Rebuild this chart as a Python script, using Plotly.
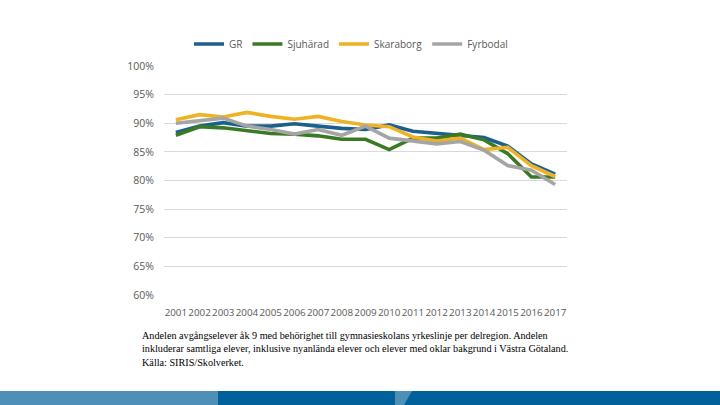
import plotly.graph_objects as go

# ── Data ─────────────────────────────────────────────────────────────────────
YEARS = [str(y) for y in range(2001, 2018)]

GR        = [88.4, 89.5, 90.1, 89.5, 89.5, 89.9, 89.5, 89.1, 88.9, 89.7, 88.6, 88.2, 87.8, 87.5, 86.0, 82.9, 81.1]
SJUHARAD  = [87.9, 89.4, 89.2, 88.7, 88.2, 88.1, 87.8, 87.2, 87.2, 85.4, 87.4, 87.4, 88.1, 87.1, 84.7, 80.6, 80.6]
SKARABORG = [90.6, 91.5, 91.1, 91.9, 91.2, 90.7, 91.2, 90.3, 89.7, 89.4, 87.6, 86.9, 87.4, 85.4, 85.8, 82.6, 80.7]
FYRBODAL  = [90.0, 90.5, 90.9, 89.5, 88.9, 88.1, 88.9, 87.9, 89.5, 87.4, 86.9, 86.4, 86.8, 85.3, 82.6, 81.8, 79.3]

SERIES = [
    ("GR",        GR,        "#1b5f8c"),
    ("Sjuhärad",  SJUHARAD,  "#3b7a24"),
    ("Skaraborg", SKARABORG, "#eeb225"),
    ("Fyrbodal",  FYRBODAL,  "#a5a5a5"),
]

Y_TICKS = [0.60, 0.65, 0.70, 0.75, 0.80, 0.85, 0.90, 0.95, 1.00]

NOTE = ("Andelen avgångselever åk 9 med behörighet till gymnasieskolans yrkeslinje per delregion. Andelen<br>"
        "inkluderar samtliga elever, inklusive nyanlända elever och elever med oklar bakgrund i Västra Götaland.<br>"
        "Källa: SIRIS/Skolverket.")

# ── Layout helpers (pixel -> paper) ──────────────────────────────────────────
W, H = 720, 405
L, R, T, B = 164, 567, 66, 295


def px(x):
    return (x - L) / (R - L)


def py(y):
    return (B - y) / (B - T)


# ── Figure ───────────────────────────────────────────────────────────────────
fig = go.Figure()
for name, vals, color in SERIES:
    fig.add_trace(go.Scatter(
        x=YEARS, y=[v / 100 for v in vals], name=name, mode="lines",
        line=dict(color=color, width=3.6),
    ))

# bottom decorative strip
strip = [
    dict(type="rect", x0=px(0), x1=px(218), y0=py(405), y1=py(391), fillcolor="#4e8fb8"),
    dict(type="rect", x0=px(218), x1=px(720), y0=py(405), y1=py(391), fillcolor="#02609a"),
    dict(type="path",
         path=f"M {px(395)},{py(405)} L {px(395)},{py(391)} L {px(412)},{py(391)} L {px(404)},{py(405)} Z",
         fillcolor="#4e8fb8"),
]
for s in strip:
    s.update(xref="paper", yref="paper", line=dict(width=0), layer="above")
    fig.add_shape(**s)

fig.add_annotation(
    text=NOTE, xref="paper", yref="paper", x=px(140), y=py(328),
    xanchor="left", yanchor="top", align="left", showarrow=False,
    font=dict(family="Liberation Serif", size=10.2, color="#000000"),
)

fig.update_layout(
    width=W, height=H,
    margin=dict(l=L, r=W - R, t=T, b=H - B),
    paper_bgcolor="white", plot_bgcolor="white",
    font=dict(family="Open Sans", size=10.5, color="#595959"),
    showlegend=True,
    legend=dict(orientation="h", x=px(351), xanchor="center", y=py(44), yanchor="middle",
                itemwidth=30, font=dict(size=10, color="#595959"), bgcolor="rgba(0,0,0,0)"),
    xaxis=dict(type="category", tickmode="array", tickvals=YEARS, tickangle=0,
               range=[-0.5, len(YEARS) - 0.5],
               showgrid=False, showline=False, zeroline=False, ticklabelstandoff=10,
               tickfont=dict(size=9.8)),
    yaxis=dict(range=[0.6, 1.0], tickvals=Y_TICKS, tickformat=".0%",
               showgrid=True, gridcolor="#d9d9d9", gridwidth=1, zeroline=False,
               showline=False, ticklabelstandoff=9),
)

# drop the default body margin so the figure sits flush in the window
fig.write_html("out.html", config={"displayModeBar": False},
               post_script="document.body.style.margin='0';")
